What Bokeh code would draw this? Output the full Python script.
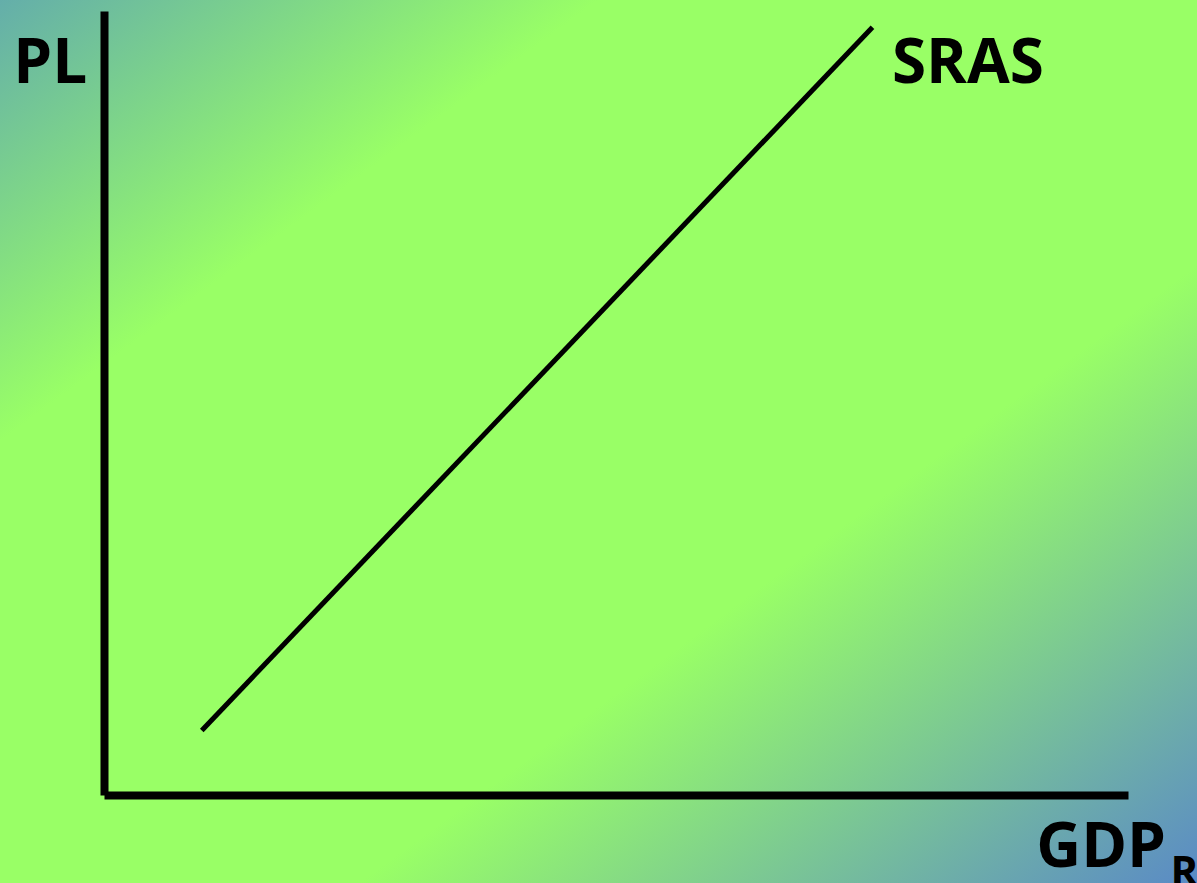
from bokeh.plotting import figure
from bokeh.models import Range1d
from bokeh.core.properties import value
from bokeh.embed import file_html
from bokeh.resources import INLINE

# Data: short-run aggregate supply curve (price level vs real GDP)
sras_gdp = [9.5, 75.0]
sras_pl = [8.3, 98.0]
curve_name = "SRAS"
y_label = "PL"
x_label = "GDP"
x_label_sub = "R"

W, H = 1197, 883
p = figure(width=W, height=H, output_backend="svg", toolbar_location=None,
           x_range=Range1d(-10.156, 106.74), y_range=Range1d(-11.224, 101.403),
           min_border=0,
           background_fill_color=None, border_fill_color=None,
           outline_line_color=None,
           styles={"background": "linear-gradient(to bottom right, #64aeaa 0%, #99ff66 25%, #99ff66 65%, #5a8ac6 100%)"})

p.grid.visible = False
for ax in (p.xaxis, p.yaxis):
    ax.fixed_location = 0
    ax.bounds = (0, 100)
    ax.axis_line_width = 8
    ax.axis_line_color = "black"
    ax.axis_line_cap = "butt"
    ax.major_tick_line_color = None
    ax.minor_tick_line_color = None
    ax.major_label_text_color = None
    ax.major_label_text_font_size = "1px"
    ax.major_label_standoff = 0
    ax.major_tick_out = 0
    ax.major_tick_in = 0

p.line(sras_gdp, sras_pl, line_width=5, line_color="black")

font = value("Open Sans")
p.text(x=[-8.9], y=[94.0], text=[y_label], text_font=font, text_font_style="bold",
       text_font_size="62px", text_baseline="alphabetic", text_align="left", text_color="black")
p.text(x=[76.9], y=[94.0], text=[curve_name], text_font=font, text_font_style="bold",
       text_font_size="62px", text_baseline="alphabetic", text_align="left", text_color="black")
p.text(x=[91.0], y=[-6.0], text=[x_label], text_font=font, text_font_style="bold",
       text_font_size="62px", text_baseline="alphabetic", text_align="left", text_color="black")
p.text(x=[104.1], y=[-9.5], text=[x_label_sub], text_font=font, text_font_style="bold",
       text_font_size="42px", text_baseline="alphabetic", text_align="left", text_color="black")

open("out.html", "w").write(file_html(p, INLINE))
